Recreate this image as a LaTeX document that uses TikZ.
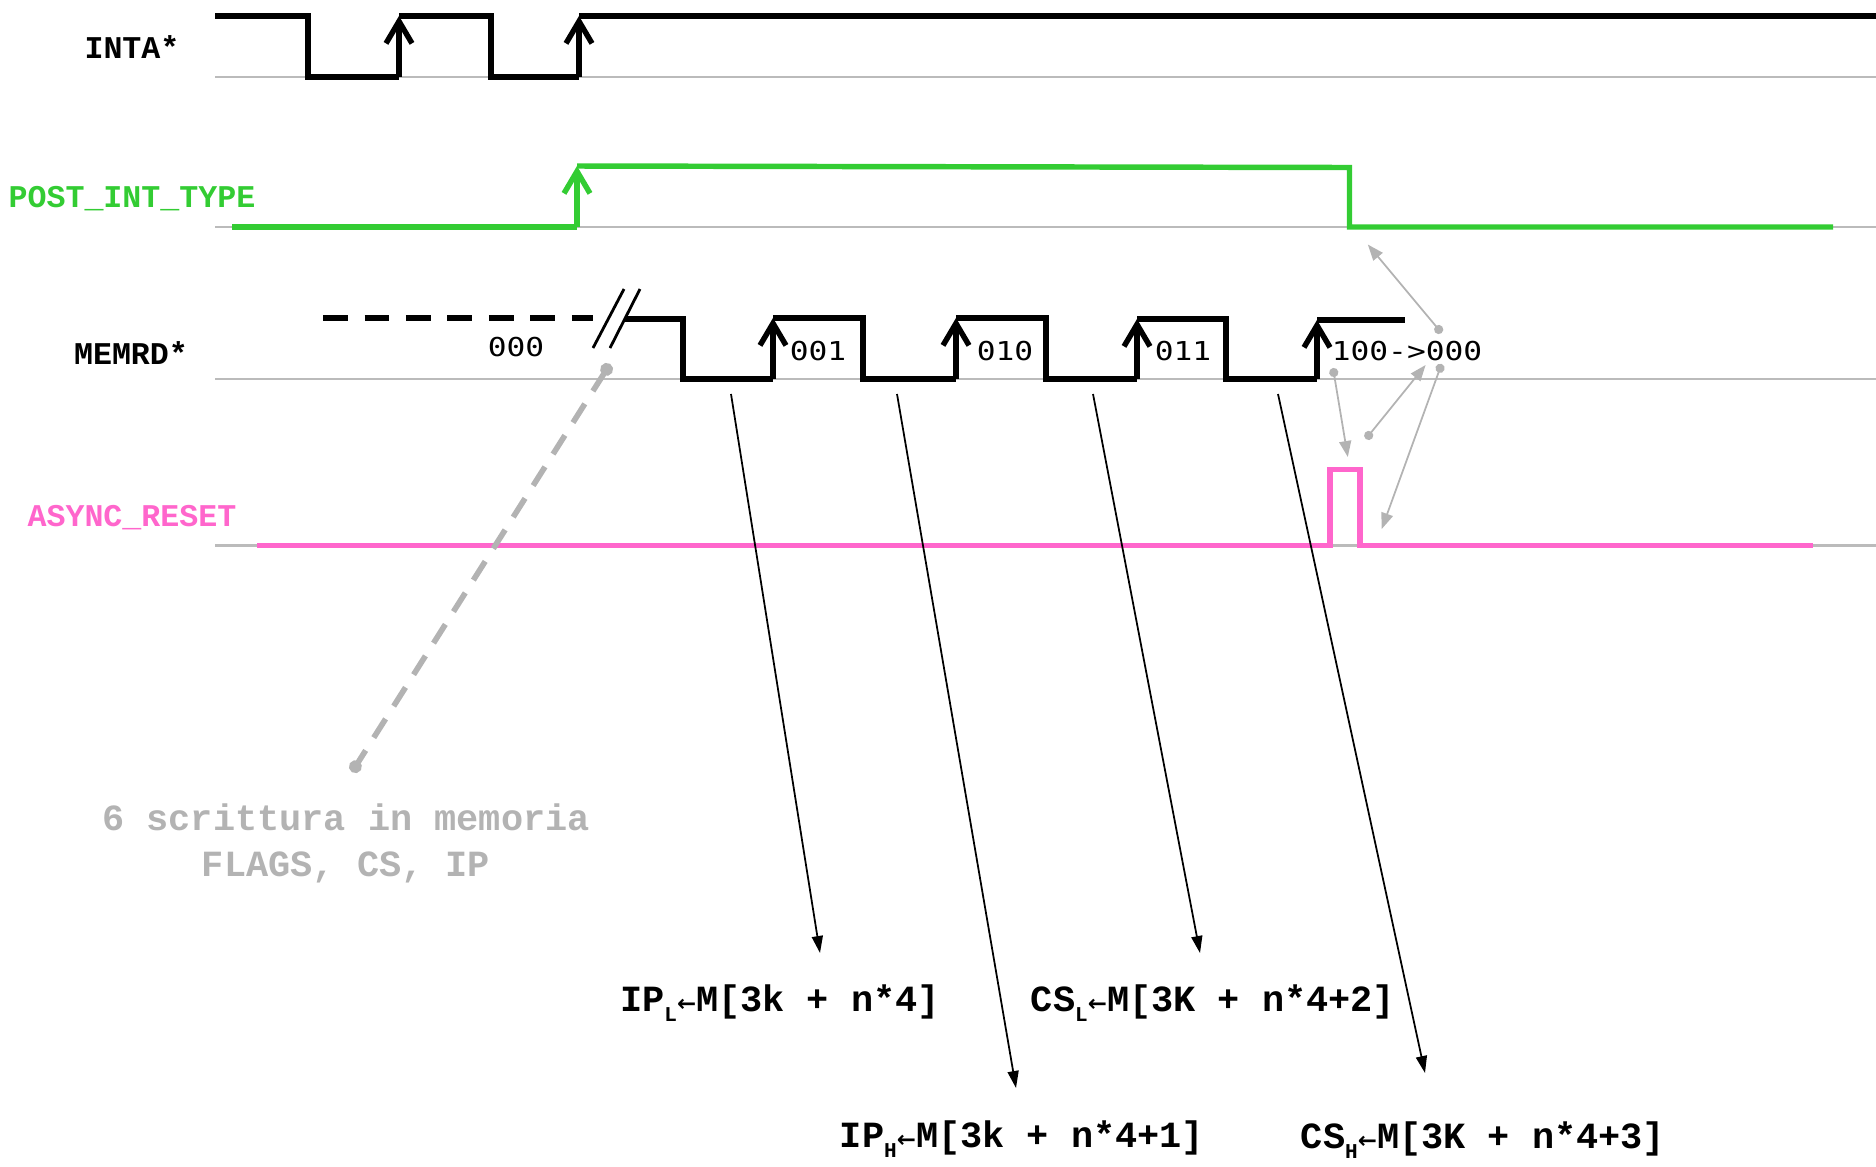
\documentclass[tikz,border=0pt]{standalone}
\usepackage{fontspec}
\setmonofont{Liberation Mono}
\newfontfamily\digitfont[FakeStretch=1.2]{DejaVu Sans Mono}
\newfontfamily\symfont{DejaVu Sans}
\usetikzlibrary{arrows.meta}
\definecolor{postgreen}{HTML}{33CC33}
\definecolor{resetpink}{HTML}{FF66CC}
\definecolor{notegray}{HTML}{B3B3B3}
\definecolor{basegray}{HTML}{BBBBBB}
% register <- memory, with small index and arrow
\newcommand{\ld}[2]{#1\raisebox{-0.55ex}{\fontsize{6}{6}\selectfont #2}{\symfont\fontsize{6.5}{6.5}\selectfont ←}}

\begin{document}
\begin{tikzpicture}[x=0.01cm,y=-0.01cm,
  every node/.style={font=\ttfamily\bfseries\fontsize{9}{10}\selectfont,inner sep=0pt,anchor=base},
  sig/.style={line width=1.55pt},
  rise/.style={sig,-{Straight Barb[length=2.2mm,width=2.6mm]}},
  base/.style={basegray,line width=0.6pt},
  val/.style={font=\digitfont\fontsize{7.4}{8}\selectfont},
  op/.style={font=\ttfamily\bfseries\fontsize{10.5}{12}\selectfont},
  ptr/.style={-{Triangle[length=1.7mm,width=1.1mm]},line width=0.5pt},
  hint/.style={notegray,{Circle[length=2.6pt]}-{Triangle[length=1.6mm,width=1.2mm]},line width=0.5pt},
  gap/.style={notegray,line width=1.6pt,dash pattern=on 6.3pt off 4.3pt,{Circle[length=3.6pt]}-{Circle[length=3.6pt]}}]

\useasboundingbox (0,0) rectangle (1876,1166);

% signal names
\node (inta) at (132,58) {INTA*};
\node[text=postgreen] (post) at (132,207) {POST\_INT\_TYPE};
\node (memrd) at (131,364) {MEMRD*};
\node[text=resetpink] (rst) at (132,526) {ASYNC\_RESET};

% reference lines
\draw[base] (215,77) -- (1876,77);
\draw[base] (215,227) -- (1876,227);
\draw[base] (215,379) -- (1876,379);
\draw[base] (215,545.5) -- (1876,545.5);

% INTA*
\draw[sig] (215,16) -- (308,16) -- (308,77) -- (399,77);
\draw[rise] (399,77) -- (399,16);
\draw[sig] (399,16) -- (491,16) -- (491,77) -- (579,77);
\draw[rise] (579,77) -- (579,16);
\draw[sig] (579,16) -- (1876,16);

% POST_INT_TYPE
\draw[sig,postgreen] (232,227) -- (577,227);
\draw[rise,postgreen] (577,227) -- (577,166);
\draw[sig,postgreen] (577,166) -- (1349.5,167.5) -- (1349.5,227) -- (1833,227);

% MEMRD*
\draw[sig,dash pattern=on 7pt off 4.8pt] (323,318) -- (593,318);
\draw[line width=0.8pt] (593,348) -- (624,289) (610,348) -- (640,289);
\draw[sig] (625,319) -- (683,319) -- (683,379) -- (773,379);
\draw[rise] (773,379) -- (773,318);
\draw[sig] (773,318) -- (863,318) -- (863,379) -- (956,379);
\draw[rise] (956,379) -- (956,318);
\draw[sig] (956,318) -- (1046,318) -- (1046,379) -- (1137,379);
\draw[rise] (1137,379) -- (1137,319);
\draw[sig] (1137,319) -- (1226,319) -- (1226,379) -- (1317,379);
\draw[rise] (1317,379) -- (1317,320);
\draw[sig] (1317,320) -- (1405,320);

\node[val] (v0) at (516,356) {000};
\node[val] (v1) at (818,360) {001};
\node[val] (v2) at (1005,360) {010};
\node[val] (v3) at (1183,360) {011};
\node[val] (v4) at (1407,360) {100->000};

% ASYNC_RESET
\draw[sig,resetpink] (257,545.5) -- (1330,545.5) -- (1330,469.5) -- (1360,469.5) -- (1360,545.5) -- (1813,545.5);

% note on the skipped cycles
\coordinate (g1) at (610,364);
\coordinate (g2) at (352,772);
\draw[gap] (g1) -- (g2);
\node[op,text=notegray] (note1) at (346,830) {6 scrittura in memoria};
\node[op,text=notegray] (note2) at (346,876) {FLAGS, CS, IP};

% reads
\node[op] (ipl) at (780,1011) {\ld{IP}{L}M[3k + n*4]};
\node[op] (csl) at (1213,1011) {\ld{CS}{L}M[3K + n*4+2]};
\node[op] (iph) at (1022,1147) {\ld{IP}{H}M[3k + n*4+1]};
\node[op] (csh) at (1483,1148) {\ld{CS}{H}M[3K + n*4+3]};

\coordinate (r1) at (731,394); \coordinate (t1) at (820,953);
\coordinate (r2) at (897,394); \coordinate (t2) at (1016,1088);
\coordinate (r3) at (1093,394); \coordinate (t3) at (1200,953);
\coordinate (r4) at (1278,394); \coordinate (t4) at (1425,1073);
\draw[ptr] (r1) -- (t1); \draw[ptr] (r2) -- (t2);
\draw[ptr] (r3) -- (t3); \draw[ptr] (r4) -- (t4);

% reset chain
\coordinate (h1) at (1441.6,333); \coordinate (e1) at (1367.8,244.5);
\coordinate (h2) at (1333,368);   \coordinate (e2) at (1347.8,457);
\coordinate (h3) at (1365.8,439); \coordinate (e3) at (1425.6,365);
\coordinate (h4) at (1441.6,364); \coordinate (e4) at (1381.7,529);
\draw[hint] (h1) -- (e1); \draw[hint] (h2) -- (e2);
\draw[hint] (h3) -- (e3); \draw[hint] (h4) -- (e4);
\end{tikzpicture}
\end{document}
